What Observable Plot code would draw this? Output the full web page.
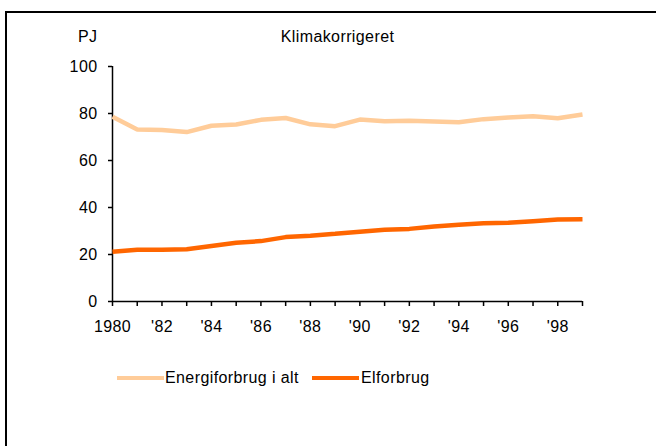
<!DOCTYPE html>
<html>
<head>
<meta charset="utf-8">
<script src="https://cdn.jsdelivr.net/npm/d3@7"></script>
<script src="https://cdn.jsdelivr.net/npm/@observablehq/plot@0.6"></script>
<style>
  html, body { margin: 0; padding: 0; background: #fff; }
  #wrap { position: relative; width: 656px; height: 446px; overflow: hidden; font-family: "Liberation Sans", Arial, sans-serif; font-size: 16px; letter-spacing: 0.4px; color: #000; }
  #frame { position: absolute; left: 5px; top: 11px; right: -10px; bottom: -10px; border-left: 2px solid #000; border-top: 2px solid #000; }
  .lbl { position: absolute; white-space: nowrap; line-height: 1; }
  #chart { position: absolute; left: 0; top: 0; }
  .sw { position: absolute; height: 4px; }
</style>
</head>
<body>
<div id="wrap">
  <div id="frame"></div>
  <div id="chart"></div>
  <div class="lbl" id="unit" style="left:78px; top:29px;">PJ</div>
  <div class="lbl" id="title" style="left:0; width:675px; text-align:center; top:29px;">Klimakorrigeret</div>
  <div id="legend"></div>
</div>
<script>
const years = [1980,1981,1982,1983,1984,1985,1986,1987,1988,1989,1990,1991,1992,1993,1994,1995,1996,1997,1998,1999];
const energiforbrug = [78.6,73.2,73.0,72.1,74.8,75.3,77.3,78.1,75.4,74.6,77.4,76.7,76.9,76.6,76.3,77.6,78.3,78.8,78.0,79.6];
const elforbrug = [21.2,22.0,22.0,22.2,23.6,25.0,25.7,27.4,28.0,28.8,29.7,30.5,30.9,31.9,32.7,33.3,33.5,34.2,34.9,35.0];
const seriesNames = ["Energiforbrug i alt", "Elforbrug"];
const seriesColors = ["#FFCC99", "#FF6600"];
const yTicks = [0, 20, 40, 60, 80, 100];

const rows = [];
years.forEach((yr, i) => {
  rows.push({year: yr, value: energiforbrug[i], series: seriesNames[0]});
  rows.push({year: yr, value: elforbrug[i], series: seriesNames[1]});
});

const fmtYear = d => d % 2 ? "" : (d === 1980 ? "1980" : "'" + String(d).slice(2));

const chart = Plot.plot({
  width: 656,
  height: 446,
  marginLeft: 112,
  marginRight: 74,
  marginTop: 66,
  marginBottom: 145,
  style: "font-family: 'Liberation Sans', Arial, sans-serif; font-size: 16px; letter-spacing: 0.4px; color: #000; background: transparent; overflow: visible;",
  x: {domain: [1980, 1999]},
  y: {domain: [0, 100]},
  color: {domain: seriesNames, range: seriesColors},
  marks: [
    Plot.axisY({ticks: yTicks, tickSize: 4, tickPadding: 11, label: null, strokeWidth: 1.5, tickFormat: d => String(d)}),
    Plot.axisX({ticks: years, tickSize: 5, tickPadding: 14, label: null, strokeWidth: 1.5, tickFormat: fmtYear}),
    Plot.ruleX([1980], {y1: 0, y2: 100, stroke: "#000", strokeWidth: 1.5}),
    Plot.ruleY([0], {stroke: "#000", strokeWidth: 1.5}),
    Plot.line(rows, {x: "year", y: "value", z: "series", stroke: "series", strokeWidth: 4.5, strokeLinejoin: "miter", strokeLinecap: "butt"})
  ]
});
document.getElementById("chart").appendChild(chart);

// legend
const legend = document.getElementById("legend");
const legendPos = [{sw: 117, tx: 165}, {sw: 312, tx: 361}];
seriesNames.forEach((name, i) => {
  const sw = document.createElement("div");
  sw.className = "sw";
  sw.style.left = legendPos[i].sw + "px";
  sw.style.top = "376px";
  sw.style.width = "47px";
  sw.style.background = seriesColors[i];
  legend.appendChild(sw);
  const t = document.createElement("div");
  t.className = "lbl";
  t.style.left = legendPos[i].tx + "px";
  t.style.top = "370px";
  t.textContent = name;
  legend.appendChild(t);
});
</script>
</body>
</html>
